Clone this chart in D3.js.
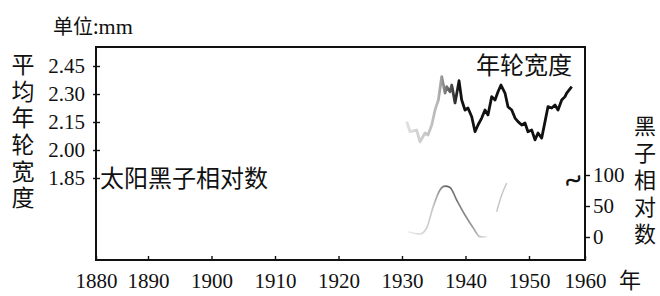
<!DOCTYPE html>
<html><head><meta charset="utf-8">
<script src="https://cdn.jsdelivr.net/npm/d3@7"></script>
<style>
html,body{margin:0;padding:0;background:#fff;}
svg{display:block;}
</style>
</head><body>
<svg id="c" width="660" height="296"></svg>
<script>
// ---- data ----
const xTickYears = [1880,1890,1900,1910,1920,1930,1940,1950,1960];
const leftTicks = [1.85,2.00,2.15,2.30,2.45];
const rightTicks = [0,50,100];

// average annual tree-ring width (mm)
const ringYears = [1930.74,1931.26,1932.31,1932.83,1933.62,1934.09,1934.68,1935.20,1935.72,1936.25,
  1936.77,1937.04,1937.56,1937.83,1938.35,1938.98,1939.40,1939.92,1940.39,1940.98,
  1941.50,1941.97,1942.55,1943.07,1943.54,1944.13,1944.65,1945.12,1945.59,1946.22,
  1946.69,1947.28,1947.80,1948.27,1948.85,1949.37,1949.84,1950.48,1951.07,1951.61,
  1952.27,1952.86,1953.39,1954.05,1954.64,1955.18,1955.84,1956.43,1956.73,1957.63];
const ringWidth = [2.152,2.098,2.107,2.044,2.091,2.080,2.134,2.214,2.268,2.393,
  2.305,2.339,2.312,2.348,2.252,2.371,2.268,2.214,2.225,2.178,
  2.098,2.134,2.171,2.214,2.188,2.286,2.268,2.312,2.348,2.305,
  2.232,2.214,2.171,2.152,2.134,2.145,2.098,2.107,2.054,2.091,
  2.064,2.152,2.232,2.225,2.241,2.214,2.268,2.286,2.305,2.339];

// sunspot relative number (visible fragments)
const sunYearsA = [1930.98,1932.83,1933.87,1934.91,1935.98,1936.77,1937.56,1938.61,1939.92,1941.23,1942.28,1943.39];
const sunValuesA = [8.5,4.8,14.5,48.9,75.8,82,80,59.7,35.5,14.5,0.5,0];
const sunYearsB = [1944.91,1945.59,1946.49];
const sunValuesB = [40.8,64.5,87];

// ---- layout ----
const svg = d3.select("#c");
const frame = {left:96, right:585, top:47, bottom:260};
const SERIF = '"Liberation Serif","Times New Roman","DejaVu Serif",serif';
const CJK = '"Noto Sans CJK SC","Noto Sans CJK JP",sans-serif';

const x = d3.scaleLinear().domain([1880,1890,1950,1960]).range([96,148,529,585]);
const y = d3.scaleLinear().domain([1.85,2.45]).range([178,66]);
const y2 = d3.scaleLinear().domain([0,100]).range([237,175]);

// gradients imitating the faded scan
const defs = svg.append("defs");
const g1 = defs.append("linearGradient").attr("id","ringGrad")
  .attr("gradientUnits","userSpaceOnUse")
  .attr("x1",x(1930.5)).attr("x2",x(1939)).attr("y1",0).attr("y2",0);
g1.append("stop").attr("offset","0%").attr("stop-color","#e2e2e2");
g1.append("stop").attr("offset","60%").attr("stop-color","#b8b8b8");
g1.append("stop").attr("offset","100%").attr("stop-color","#111");

const g2 = defs.append("linearGradient").attr("id","sunGrad")
  .attr("gradientUnits","userSpaceOnUse")
  .attr("x1",x(1931)).attr("x2",x(1943.5)).attr("y1",0).attr("y2",0);
g2.append("stop").attr("offset","0%").attr("stop-color","#ececec");
g2.append("stop").attr("offset","30%").attr("stop-color","#c8c8c8");
g2.append("stop").attr("offset","48%").attr("stop-color","#666");
g2.append("stop").attr("offset","80%").attr("stop-color","#999");
g2.append("stop").attr("offset","100%").attr("stop-color","#f0f0f0");

// frame
svg.append("rect").attr("x",frame.left).attr("y",frame.top)
  .attr("width",frame.right-frame.left).attr("height",frame.bottom-frame.top)
  .attr("fill","none").attr("stroke","#111").attr("stroke-width",2);

function styleAxis(g){
  g.select(".domain").remove();
  g.attr("font-family",null).attr("font-size",null);
  g.selectAll("line").attr("stroke","#111").attr("stroke-width",1.4);
  g.selectAll("text").style("font-family",SERIF).style("font-size","21px").attr("fill","#111");
}
// left axis
const ax = svg.append("g").attr("transform","translate(100,0)")
  .call(d3.axisLeft(y).tickValues(leftTicks).tickFormat(d3.format(".2f")).tickSize(7).tickPadding(8));
styleAxis(ax);

// right axis
const ar = svg.append("g").attr("transform","translate(584,0)")
  .call(d3.axisRight(y2).tickValues(rightTicks).tickSize(6).tickPadding(3));
styleAxis(ar);

// bottom axis
const ab = svg.append("g").attr("transform",`translate(0,${frame.bottom})`)
  .call(d3.axisBottom(x).tickValues(xTickYears).tickFormat(d3.format("d")).tickSize(-4).tickPadding(13));
styleAxis(ab);

// tree-ring line
const ring = ringYears.map((d,i)=>[d,ringWidth[i]]);
svg.append("path").datum(ring)
  .attr("d", d3.line().x(d=>x(d[0])).y(d=>y(d[1])))
  .attr("fill","none").attr("stroke","url(#ringGrad)").attr("stroke-width",2.8)
  .attr("stroke-linejoin","round");

// sunspot fragments
const sunLine = d3.line().x(d=>x(d[0])).y(d=>y2(d[1])).curve(d3.curveMonotoneX);
svg.append("path").datum(sunYearsA.map((d,i)=>[d,sunValuesA[i]]))
  .attr("d",sunLine).attr("fill","none").attr("stroke","url(#sunGrad)").attr("stroke-width",1.7);
svg.append("path").datum(sunYearsB.map((d,i)=>[d,sunValuesB[i]]))
  .attr("d",sunLine).attr("fill","none").attr("stroke","#c4c4c4").attr("stroke-width",1.4);

// texts
const unit = svg.append("text").attr("x",53).attr("y",34).attr("fill","#111");
unit.append("tspan").style("font-family",CJK).style("font-size","20px").text("单位:");
unit.append("tspan").style("font-family",SERIF).style("font-size","22px").text("mm");

svg.append("text").style("font-family",CJK).attr("x",572).attr("y",74).attr("text-anchor","end")
  .style("font-size","24px").attr("fill","#111").text("年轮宽度");
svg.append("text").style("font-family",CJK).attr("x",100).attr("y",187)
  .style("font-size","24px").attr("fill","#111").text("太阳黑子相对数");

// vertical titles (single text elements, vertical writing)
svg.append("text").style("font-family",CJK).attr("x",23).attr("y",53)
  .style("writing-mode","vertical-rl").style("letter-spacing","3.6px")
  .style("font-size","23px").attr("fill","#111").text("平均年轮宽度");
svg.append("text").style("font-family",CJK).attr("x",645).attr("y",115)
  .style("writing-mode","vertical-rl").style("letter-spacing","5px")
  .style("font-size","22px").attr("fill","#111").text("黑子相对数");

svg.append("text").style("font-family",CJK).attr("x",630).attr("y",280).attr("dy","0.36em")
  .attr("text-anchor","middle").style("font-size","22px").attr("fill","#111").text("年");

// axis break mark
svg.append("text").attr("transform","translate(573,180) rotate(-20)")
  .attr("text-anchor","middle").attr("dy","0.35em")
  .style("font-family",SERIF).style("font-size","32px").style("font-weight","bold")
  .attr("fill","#111").text("~");
</script>
</body></html>
